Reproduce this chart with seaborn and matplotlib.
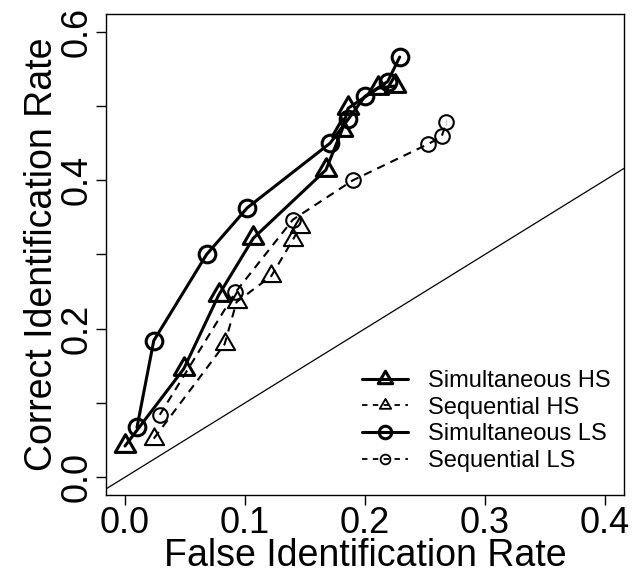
import matplotlib
matplotlib.use('Agg')
from matplotlib import pyplot as plt
from matplotlib.lines import Line2D
from matplotlib.path import Path
import seaborn as sns
import pandas as pd

#values
sim_hs_x = [0.000, 0.049, 0.078, 0.107, 0.1675, 0.181, 0.186, 0.211, 0.225]
sim_hs_y = [0.042, 0.146, 0.245, 0.322, 0.414, 0.468, 0.497, 0.524, 0.527]

seq_hs_x = [0.024, 0.083, 0.093, 0.122, 0.140, 0.146]
seq_hs_y = [0.052, 0.179, 0.236, 0.271, 0.320, 0.337]

sim_ls_x = [0.010, 0.024, 0.068, 0.102, 0.171, 0.186, 0.200, 0.219, 0.229]
sim_ls_y = [0.067, 0.184, 0.300, 0.363, 0.450, 0.482, 0.513, 0.533, 0.566]

seq_ls_x = [0.029, 0.092, 0.140, 0.190, 0.253, 0.264, 0.268, 0.268]
seq_ls_y = [0.084, 0.249, 0.347, 0.400, 0.449, 0.459, 0.473, 0.483]

labels = ['Simultaneous HS', 'Sequential HS', 'Simultaneous LS', 'Sequential LS']
x_ticks = [0.0, 0.1, 0.2, 0.3, 0.4]
y_ticks = [0.0, 0.1, 0.2, 0.3, 0.4, 0.5, 0.6]
y_ticklabels = ['0.0', '', '0.2', '', '0.4', '', '0.6']

sns.set_style('white')
plt.rcParams['font.family'] = ['Liberation Sans', 'DejaVu Sans']
for key in ['text.color', 'axes.labelcolor', 'xtick.color', 'ytick.color']:
	plt.rcParams[key] = 'black'

#R style open triangle (point sits below the middle of the box)
tri = Path([(0, 1.555), (1.347, -0.778), (-1.347, -0.778), (0, 1.555)],
	[Path.MOVETO, Path.LINETO, Path.LINETO, Path.CLOSEPOLY])

fig = plt.figure(figsize = (6.34, 5.73), dpi = 100)
ax = fig.add_axes([105.8 / 634, 1 - 495 / 573, (624 - 105.8) / 634, (495 - 14) / 573])

#style of each series: (x, y, marker, marker size, line width, dashed)
series = [
	(sim_hs_x, sim_hs_y, tri, 17, 2.2, False),
	(seq_hs_x, seq_hs_y, tri, 16, 1.5, True),
	(sim_ls_x, sim_ls_y, 'o', 12, 2.2, False),
	(seq_ls_x, seq_ls_y, 'o', 10.5, 1.5, True),
]

for (xs, ys, mk, ms, lw, dashed), lab in zip(series, labels):
	df = pd.DataFrame({'x': xs, 'y': ys})
	sns.lineplot(data = df, x = 'x', y = 'y', ax = ax, sort = False, color = 'black',
		lw = lw, marker = mk, markersize = ms, markerfacecolor = 'none',
		markeredgecolor = 'black', markeredgewidth = lw,
		linestyle = (0, (4, 3)) if dashed else '-', label = lab, legend = False)

#identity line
ax.axline((0, 0), slope = 1, color = 'black', lw = 0.9)

ax.set_xlim(-0.016, 0.416)
ax.set_ylim(-0.024, 0.624)
ax.set_xticks(x_ticks)
ax.set_xticklabels(['0.0', '0.1', '0.2', '0.3', '0.4'])
ax.set_yticks(y_ticks)
ax.set_yticklabels(y_ticklabels, rotation = 90, va = 'center')
ax.tick_params(axis = 'both', direction = 'out', length = 7, width = 1, color = 'black',
	labelsize = 26, pad = 1, bottom = True, left = True)
for sp in ax.spines.values():
	sp.set_color('black')
	sp.set_linewidth(1)

ax.set_xlabel('False Identification Rate', fontsize = 27, labelpad = -2)
ax.set_ylabel('Correct Identification Rate', fontsize = 27, labelpad = 0)

#legend handles with smaller markers for sequential
handles = [
	Line2D([], [], color = 'black', lw = 2.2, marker = tri, markersize = 12, markerfacecolor = 'none', markeredgewidth = 2.2),
	Line2D([], [], color = 'black', lw = 1.3, ls = (0, (3, 3)), marker = tri, markersize = 9.5, markerfacecolor = 'none', markeredgewidth = 1.3),
	Line2D([], [], color = 'black', lw = 2.2, marker = 'o', markersize = 9, markerfacecolor = 'none', markeredgewidth = 2.2),
	Line2D([], [], color = 'black', lw = 1.3, ls = (0, (3, 3)), marker = 'o', markersize = 7, markerfacecolor = 'none', markeredgewidth = 1.3),
]
ax.legend(handles, labels, loc = 'upper left', bbox_to_anchor = (362 / 634, 1 - 370 / 573),
	bbox_transform = fig.transFigure, frameon = False, fontsize = 17, handlelength = 1.95,
	handletextpad = 0.85, labelspacing = 0.2, borderpad = 0, borderaxespad = 0)

plt.savefig('out.png', dpi = 100)
